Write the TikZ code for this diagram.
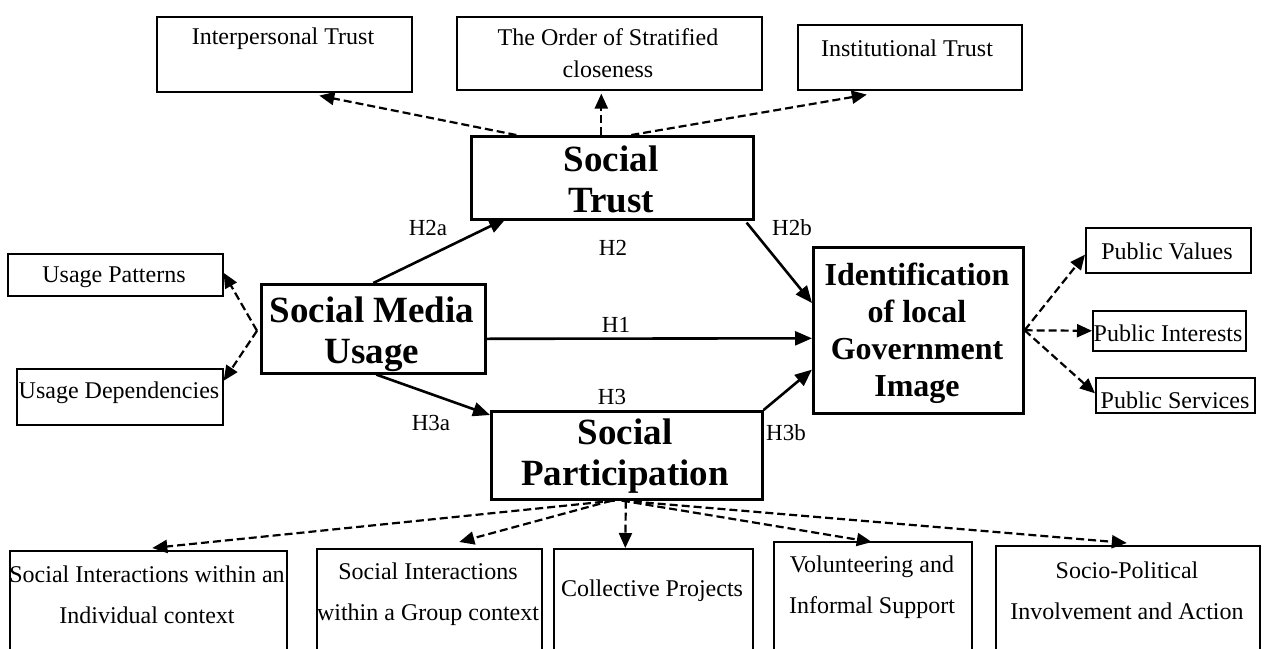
\documentclass[tikz,border=0pt]{standalone}
\usepackage{fontspec}
\setmainfont{Liberation Serif}
\usetikzlibrary{arrows.meta}
\begin{document}
\begin{tikzpicture}[x=1pt,y=-1pt,
  bigbox/.style={draw, line width=2.6pt, inner sep=0pt, anchor=north west},
  smallbox/.style={draw, line width=1.6pt, inner sep=0pt, anchor=north west},
  headtxt/.style={font=\fontsize{37}{41}\selectfont\bfseries, align=center, inner sep=0pt},
  igitxt/.style={font=\fontsize{32}{37}\selectfont\bfseries, align=center, inner sep=0pt},
  smalltxt/.style={font=\fontsize{24}{32}\selectfont, align=center, inner sep=0pt},
  widetxt/.style={font=\fontsize{24}{41}\selectfont, align=center, inner sep=0pt},
  hlabel/.style={font=\fontsize{23}{26}\selectfont, inner sep=0pt},
  sarrow/.style={line width=2.6pt, -{Triangle[length=17pt,width=14pt]}},
  darrow/.style={line width=2.2pt, dash pattern=on 8pt off 4pt, -{Triangle[length=15pt,width=13pt]}}
]
\path[use as bounding box, clip] (0,0) rectangle (1269,648);

% top boxes
\node[smallbox, minimum width=255, minimum height=75] (it) at (156,16) {};
\node[smalltxt] (itt) at (283,39) {Interpersonal Trust};
\node[smallbox, minimum width=305, minimum height=73] (ord) at (456,16) {};
\node[smalltxt] (ordt) at (608,53) {The Order of Stratified\\closeness};
\node[smallbox, minimum width=224, minimum height=65] (inst) at (797,24) {};
\node[smalltxt] (instt) at (907,48) {Institutional Trust};

% main boxes
\node[bigbox, minimum width=282, minimum height=83] (st) at (470,135) {};
\node[headtxt] (stt) at (611,179) {Social\\Trust};
\node[bigbox, minimum width=224, minimum height=89] (smu) at (260,283) {};
\node[headtxt] (smut) at (372,334) {Social Media\\Usage};
\node[bigbox, minimum width=271, minimum height=88] (sp) at (490,410) {};
\node[headtxt] (spt) at (625,456) {Social\\Participation};
\node[bigbox, minimum width=210, minimum height=166] (igi) at (812,246) {};
\node[igitxt] (igit) at (917,333) {Identification\\of local\\Government\\Image};

% left boxes
\node[smallbox, minimum width=215, minimum height=42] (up) at (7,253) {};
\node[smalltxt] (upt) at (114,277) {Usage Patterns};
\node[smallbox, minimum width=206, minimum height=56] (ud) at (16,368) {};
\node[smalltxt] (udt) at (119,393) {Usage Dependencies};

% right boxes
\node[smallbox, minimum width=165, minimum height=45] (pv) at (1085,227) {};
\node[smalltxt] (pvt) at (1167,251) {Public Values};
\node[smallbox, minimum width=153, minimum height=40] (pi) at (1092,310) {};
\node[smalltxt] (pit) at (1168,333) {Public Interests};
\node[smallbox, minimum width=159, minimum height=35] (ps) at (1095,377) {};
\node[smalltxt] (pst) at (1175,400) {Public Services};

% bottom boxes
\node[smallbox, minimum width=277, minimum height=112] (si1) at (9,550) {};
\node[widetxt] (si1t) at (147,595) {Social Interactions within an\\Individual context};
\node[smallbox, minimum width=225, minimum height=114] (si2) at (316,548) {};
\node[widetxt] (si2t) at (428,594) {Social Interactions\\within a Group context};
\node[smallbox, minimum width=199, minimum height=114] (cp) at (553,548) {};
\node[smalltxt] (cpt) at (652,591) {Collective Projects};
\node[smallbox, minimum width=198, minimum height=121] (vol) at (773,541) {};
\node[widetxt] (volt) at (872,587) {Volunteering and\\Informal Support};
\node[smallbox, minimum width=264, minimum height=117] (spi) at (995,545) {};
\node[widetxt] (spit) at (1127,591) {Socio-Political\\Involvement and Action};

% solid arrows
\draw[sarrow] (smu.north) -- ([xshift=36pt,yshift=2pt]st.south west);
\draw[sarrow] ([yshift=-10pt]smu.east) -- ([yshift=-8pt]igi.west);
\draw[sarrow] ([xshift=3pt]smu.south) -- ([yshift=-5pt]sp.north west);
\draw[sarrow] ([xshift=-8pt,yshift=-2pt]st.south east) -- ([yshift=-57pt]igi.north west);
\draw[sarrow] (sp.north east) -- ([yshift=45pt]igi.south west);

% dashed arrows from Social Trust
\draw[darrow] ([xshift=-96pt]st.north) -- ([xshift=35pt,yshift=-3pt]it.south);
\draw[darrow] ([xshift=-11pt]st.north) -- ([xshift=-8pt,yshift=-3pt]ord.south);
\draw[darrow] ([xshift=19pt]st.north) -- ([xshift=-43pt,yshift=-4pt]inst.south);

% dashed arrows from Social Media Usage
\coordinate (lf) at ([xshift=-3pt,yshift=-2pt]smu.west);
\draw[darrow] (lf) -- ([yshift=2pt]up.east);
\draw[darrow] (lf) -- ([yshift=16pt]ud.east);

% dashed arrows from Identification
\draw[darrow] (igi.east) -- ([yshift=19pt]pv.south west);
\draw[darrow] (igi.east) -- (pi.west);
\draw[darrow] (igi.east) -- ([yshift=2pt]ps.west);

% dashed arrows from Social Participation
\draw[darrow] ([xshift=-12pt]sp.south) -- ([xshift=4pt,yshift=2pt]si1.north);
\draw[darrow] ([xshift=-15pt]sp.south) -- ([xshift=30pt,yshift=6pt]si2.north);
\draw[darrow] ([xshift=-1pt]sp.south) -- ([xshift=-28pt]cp.north);
\draw[darrow] ([xshift=-5pt]sp.south) -- ([xshift=-1pt,yshift=-1pt]vol.north);
\draw[darrow] ([xshift=-5pt]sp.south) -- ([xshift=-1pt,yshift=2pt]spi.north);

% hypothesis labels
\node[hlabel] (h2a) at (428,228) {H2a};
\node[hlabel] (h2) at (613,248) {H2};
\node[hlabel] (h2b) at (792,228) {H2b};
\node[hlabel] (h1) at (616,325) {H1};
\node[hlabel] (h3) at (612,397) {H3};
\node[hlabel] (h3a) at (431,423) {H3a};
\node[hlabel] (h3b) at (786,433) {H3b};
\end{tikzpicture}
\end{document}
